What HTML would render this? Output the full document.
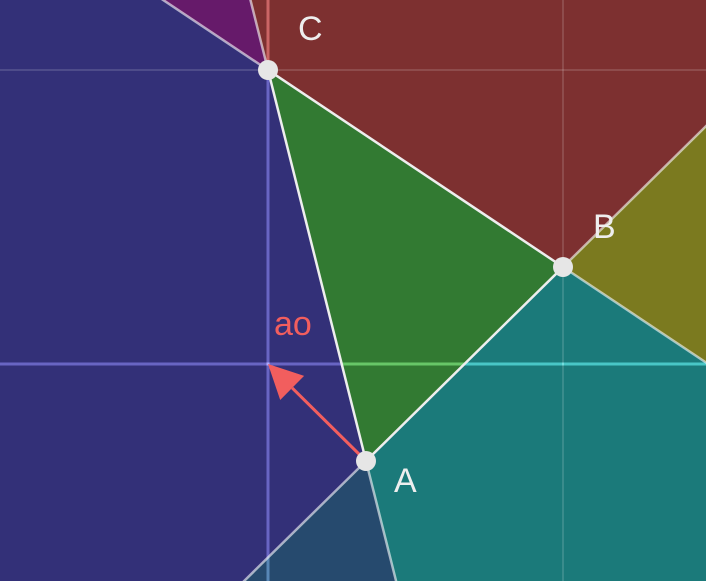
<!DOCTYPE html>
<html><head><meta charset="utf-8"><style>
html,body{margin:0;padding:0;background:#333078;overflow:hidden;width:706px;height:581px}
svg{display:block}
text{font-family:"Liberation Sans",sans-serif;font-size:34px}
</style></head><body>
<svg id="s" width="706" height="581" viewBox="0 0 706 581"></svg>
<script>
const pointNames = ["A","B","C"];
const pointX = [366, 563, 268];
const pointY = [461, 267, 70];
const originX = [268];
const originY = [364];
const gridX = [268, 563];
const gridY = [70, 364];
const NS="http://www.w3.org/2000/svg";
const s=document.getElementById('s');
function mk(t,a,parent){const e=document.createElementNS(NS,t);for(const k in a)e.setAttribute(k,a[k]);(parent||s).appendChild(e);return e;}
const P=i=>[pointX[i],pointY[i]];
const A=P(0),B=P(1),C=P(2);
function ext(from,to,k){return [to[0]+(to[0]-from[0])*k,to[1]+(to[1]-from[1])*k];}
const K=20;
const pts=a=>a.map(p=>p.join(',')).join(' ');
let e=mk('rect',{x:0,y:0,width:706,height:581,fill:'#333078'});


const regions=[
 ['region-c-vertex','#661a6a',[C,ext(A,C,K),ext(B,C,K)]],
 ['region-bc-edge','#7d3030',[C,B,ext(A,B,K),ext(A,C,K)]],
 ['region-b-vertex','#7b7a1f',[B,ext(A,B,K),ext(C,B,K)]],
 ['region-ab-edge','#1b7a7a',[B,A,ext(C,A,K),ext(C,B,K)]],
 ['region-a-vertex','#264a6e',[A,ext(C,A,K),ext(B,A,K)]],
 ['region-triangle','#327a32',[A,B,C]]
];
regions.forEach(r=>{const p=mk('polygon',{points:pts(r[2]),fill:r[1]});

});
function gridLine(x1,y1,x2,y2,ax,name){
  if(ax){
    const l=mk('line',{x1,y1,x2,y2,stroke:'#5a5a5a','stroke-width':3,style:'mix-blend-mode:color-dodge'});
    
    
    const w=mk('line',{x1,y1,x2,y2,stroke:'#fff','stroke-opacity':0.15,'stroke-width':3});
    
    
  } else {
    const l=mk('line',{x1,y1,x2,y2,stroke:'#fff','stroke-opacity':0.18,'stroke-width':1.5});
    
    
  }
}
gridX.forEach(x=>gridLine(x,0,x,581,x===originX[0],'grid-line-vertical'));
gridY.forEach(y=>gridLine(0,y,706,y,y===originY[0],'grid-line-horizontal'));
[[A,C],[B,C],[A,B],[C,B],[C,A],[B,A]].forEach(pr=>{const q=ext(pr[0],pr[1],K);
const l=mk('line',{x1:pr[1][0],y1:pr[1][1],x2:q[0],y2:q[1],stroke:'#fff','stroke-opacity':0.6,'stroke-width':2.5});

});
const tri=mk('polygon',{points:pts([A,B,C]),fill:'none',stroke:'#eee','stroke-width':2.5});


const ox=originX[0],oy=originY[0];
const dx=ox-A[0],dy=oy-A[1],len=Math.hypot(dx,dy),ux=dx/len,uy=dy/len;
const hl=34,hw=17;
const bx=ox-ux*hl,by=oy-uy*hl;
const ar=mk('line',{x1:A[0],y1:A[1],x2:bx,y2:by,stroke:'#f25e5e','stroke-width':3});


const ah=mk('polygon',{points:pts([[ox,oy],[bx-uy*hw,by+ux*hw],[bx+uy*hw,by-ux*hw]]),fill:'#f25e5e'});


const at=mk('text',{x:274,y:335,fill:'#f25e5e'});at.textContent='ao';


const off=[[28,19],[30,-41],[30,-42]];
pointNames.forEach((n,i)=>{const c=mk('circle',{cx:pointX[i],cy:pointY[i],r:10,fill:'#e6e6e6'});


const t=mk('text',{x:pointX[i]+off[i][0],y:pointY[i]+off[i][1]+12,fill:'#eeeeee'});t.textContent=n;

});
</script>
</body></html>
